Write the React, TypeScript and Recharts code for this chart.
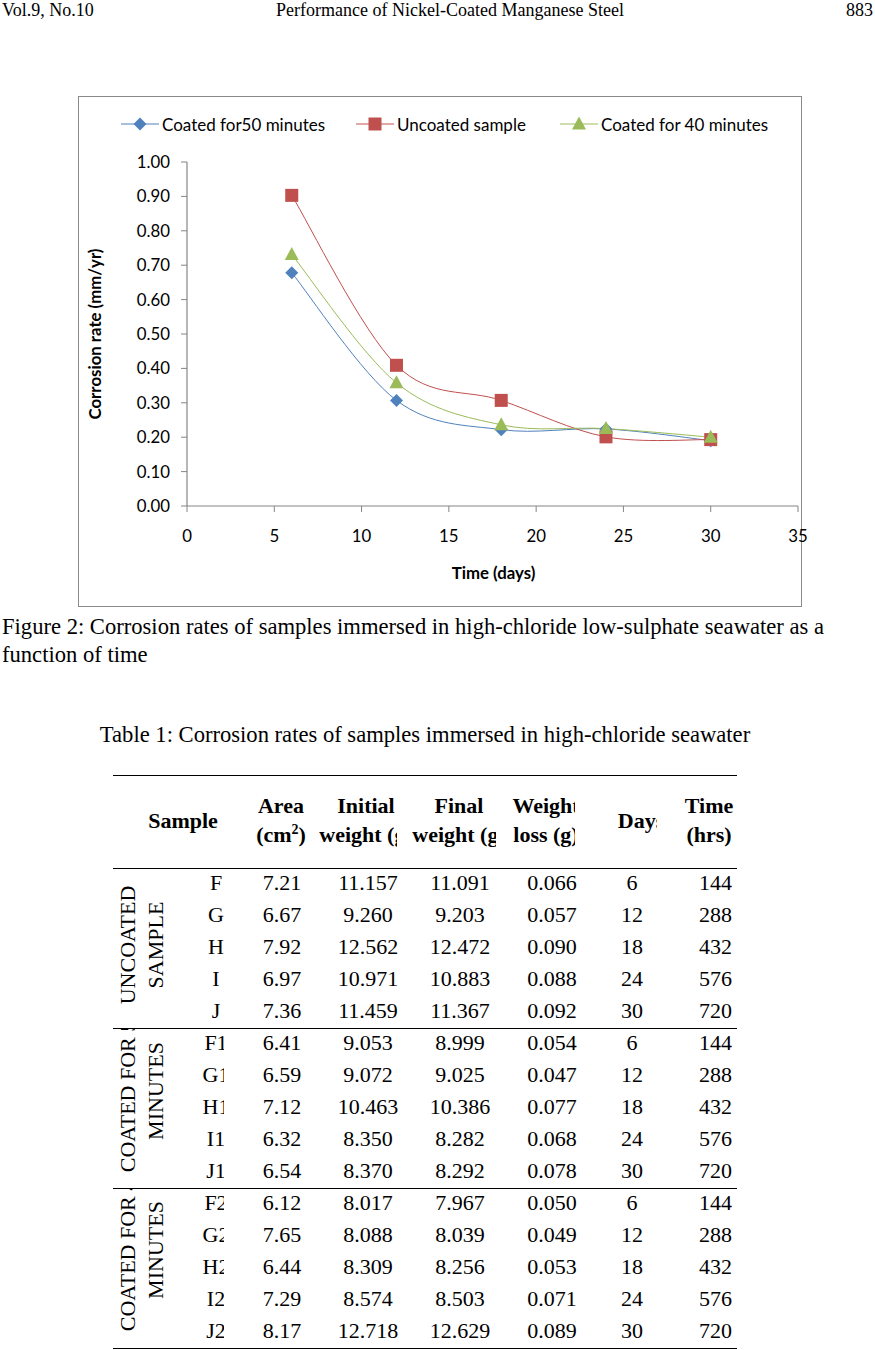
import React from "react";
import { LineChart, Line, XAxis, YAxis, Legend } from "recharts";

document.body.style.margin = "0";

// ---- chart data ----
const days = [6, 12, 18, 24, 30];
const coated50 = [0.678, 0.307, 0.222, 0.224, 0.19];
const uncoated = [0.903, 0.409, 0.307, 0.201, 0.193];
const coated40 = [0.731, 0.358, 0.236, 0.225, 0.2];
const xTicks = [0, 5, 10, 15, 20, 25, 30, 35];
const yTicks = [0, 0.1, 0.2, 0.3, 0.4, 0.5, 0.6, 0.7, 0.8, 0.9, 1.0];

// ---- table data ----
const groupLabels = [
  ["UNCOATED", "SAMPLE"],
  ["COATED FOR 50", "MINUTES"],
  ["COATED FOR 40", "MINUTES"],
];
const sampleIds = [
  ["F", "G", "H", "I", "J"],
  ["F1", "G1", "H1", "I1", "J1"],
  ["F2", "G2", "H2", "I2", "J2"],
];
const areas = [
  ["7.21", "6.67", "7.92", "6.97", "7.36"],
  ["6.41", "6.59", "7.12", "6.32", "6.54"],
  ["6.12", "7.65", "6.44", "7.29", "8.17"],
];
const initialWeights = [
  ["11.157", "9.260", "12.562", "10.971", "11.459"],
  ["9.053", "9.072", "10.463", "8.350", "8.370"],
  ["8.017", "8.088", "8.309", "8.574", "12.718"],
];
const finalWeights = [
  ["11.091", "9.203", "12.472", "10.883", "11.367"],
  ["8.999", "9.025", "10.386", "8.282", "8.292"],
  ["7.967", "8.039", "8.256", "8.503", "12.629"],
];
const weightLosses = [
  ["0.066", "0.057", "0.090", "0.088", "0.092"],
  ["0.054", "0.047", "0.077", "0.068", "0.078"],
  ["0.050", "0.049", "0.053", "0.071", "0.089"],
];
const dayCounts = ["6", "12", "18", "24", "30"];
const hours = ["144", "288", "432", "576", "720"];

const SANS = "Lato, 'Open Sans', sans-serif";
const SERIF = "'Liberation Serif', 'Times New Roman', serif";
const AXIS = "#868686";

const series = [
  { key: "c50", name: "Coated for50 minutes", color: "#4F81BD", shape: "diamond" },
  { key: "unc", name: "Uncoated sample", color: "#C0504D", shape: "square" },
  { key: "c40", name: "Coated for 40 minutes", color: "#9BBB59", shape: "triangle" },
];

const chartData = days.map((d, i) => ({
  day: d,
  c50: coated50[i],
  unc: uncoated[i],
  c40: coated40[i],
}));

// Excel-style smoothed line (Catmull-Rom through every point)
function excelSmooth(context: any) {
  let pts: [number, number][] = [];
  return {
    areaStart() {},
    areaEnd() {},
    lineStart() {
      pts = [];
    },
    point(x: number, y: number) {
      pts.push([+x, +y]);
    },
    lineEnd() {
      const n = pts.length;
      if (!n) return;
      context.moveTo(pts[0][0], pts[0][1]);
      for (let i = 0; i < n - 1; i++) {
        const p0 = pts[Math.max(i - 1, 0)];
        const p1 = pts[i];
        const p2 = pts[i + 1];
        const p3 = pts[Math.min(i + 2, n - 1)];
        context.bezierCurveTo(
          p1[0] + (p2[0] - p0[0]) / 6,
          p1[1] + (p2[1] - p0[1]) / 6,
          p2[0] - (p3[0] - p1[0]) / 6,
          p2[1] - (p3[1] - p1[1]) / 6,
          p2[0],
          p2[1]
        );
      }
    },
  };
}

function Marker({ shape, cx, cy, color }: any) {
  if (shape === "diamond") {
    const r = 6.5;
    return <path d={`M${cx},${cy - r}L${cx + r},${cy}L${cx},${cy + r}L${cx - r},${cy}Z`} fill={color} />;
  }
  if (shape === "square") {
    return <rect x={cx - 6.5} y={cy - 6.5} width={13} height={13} fill={color} />;
  }
  return <path d={`M${cx},${cy - 7.5}L${cx + 7},${cy + 5.5}L${cx - 7},${cy + 5.5}Z`} fill={color} />;
}

const legendLeft = [42, 277, 481];

function LegendBox() {
  return (
    <div style={{ position: "relative", height: 30, fontFamily: SANS, fontSize: 17, color: "#000" }}>
      {series.map((s, i) => (
        <div
          key={s.key}
          style={{ position: "absolute", left: legendLeft[i], top: 0, height: 30, display: "flex", alignItems: "center", whiteSpace: "nowrap" }}
        >
          <svg width={38} height={20} style={{ display: "block" }}>
            <line x1={0} y1={10} x2={38} y2={10} stroke={s.color} strokeWidth={1} />
            <Marker shape={s.shape} cx={19} cy={10} color={s.color} />
          </svg>
          <span style={{ marginLeft: 3 }}>{s.name}</span>
        </div>
      ))}
    </div>
  );
}

function YTitle({ viewBox }: any) {
  const x = viewBox.x + 15;
  const y = viewBox.y + viewBox.height / 2;
  return (
    <text x={x} y={y} textAnchor="middle" dominantBaseline="central" transform={`rotate(-90, ${x}, ${y})`} fontFamily={SANS} fontWeight="bold" fontSize={16.8} fill="#000">
      Corrosion rate (mm/yr)
    </text>
  );
}

function XTitle({ viewBox }: any) {
  const x = viewBox.x + viewBox.width / 2 + 1;
  const y = viewBox.y + 66;
  return (
    <text x={x} y={y} textAnchor="middle" dominantBaseline="central" fontFamily={SANS} fontWeight="bold" fontSize={16.8} fill="#000">
      Time (days)
    </text>
  );
}

function Chart() {
  const tick = { fontSize: 16.8, fill: "#000", fontFamily: SANS };
  return (
    <div style={{ position: "absolute", left: 78, top: 96, width: 722, height: 509, border: "1px solid #8a8a8a", background: "#fff" }}>
      <div style={{ position: "absolute", left: 0, top: 0 }}>
        {/* chart is wider than the frame so the last x tick label ("35") is not cut */}
        <LineChart width={745} height={509} data={chartData} margin={{ top: 65, right: 26, bottom: 0, left: 0 }}>
          <XAxis
            type="number"
            dataKey="day"
            domain={[0, 35]}
            ticks={xTicks}
            interval={0}
            height={100}
            tickSize={6}
            tickMargin={18}
            tick={tick}
            axisLine={{ stroke: AXIS, strokeWidth: 1.2 }}
            tickLine={{ stroke: AXIS }}
            label={(p: any) => <XTitle {...p} />}
          />
          <YAxis
            type="number"
            domain={[0, 1]}
            ticks={yTicks}
            interval={0}
            width={108}
            tickSize={6}
            tickMargin={11}
            tick={tick}
            tickFormatter={(v: number) => v.toFixed(2)}
            axisLine={{ stroke: AXIS, strokeWidth: 1.2 }}
            tickLine={{ stroke: AXIS }}
            label={(p: any) => <YTitle {...p} />}
          />
          <Legend
            content={<LegendBox />}
            layout="horizontal"
            verticalAlign="middle"
            align="center"
            wrapperStyle={{ top: 12, left: 0, width: 722, height: 30 }}
          />
          {series.map((s) => (
            <Line
              key={s.key}
              dataKey={s.key}
              name={s.name}
              type={excelSmooth as any}
              stroke={s.color}
              strokeWidth={1}
              isAnimationActive={false}
              activeDot={false}
              dot={(p: any) => <Marker key={`${s.key}-${p.index}`} shape={s.shape} cx={p.cx} cy={p.cy} color={s.color} />}
            />
          ))}
        </LineChart>
      </div>
    </div>
  );
}

function Txt({ x, y, size = 22, align = "left", bold = false, font = SERIF, children }: any) {
  const tx = align === "center" ? "-50%" : align === "right" ? "-100%" : "0";
  return (
    <div
      style={{
        position: "absolute",
        left: x,
        top: y - size / 2,
        fontSize: size,
        lineHeight: `${size}px`,
        fontFamily: font,
        fontWeight: bold ? "bold" : "normal",
        whiteSpace: "nowrap",
        transform: `translateX(${tx})`,
        color: "#000",
      }}
    >
      {children}
    </div>
  );
}

function VTxt({ x, y, size = 22, children }: any) {
  return (
    <div
      style={{
        position: "absolute",
        left: x,
        top: y,
        fontSize: size,
        lineHeight: `${size}px`,
        fontFamily: SERIF,
        whiteSpace: "nowrap",
        transform: "translate(-50%, -50%) rotate(-90deg)",
      }}
    >
      {children}
    </div>
  );
}

function Clip({ left, right, top, bottom, children }: any) {
  return (
    <div style={{ position: "absolute", left, top, width: right - left, height: bottom - top, overflow: "hidden" }}>
      {children}
    </div>
  );
}

function Rule({ y }: any) {
  return <div style={{ position: "absolute", left: 113, top: y, width: 624, height: 1.3, background: "#000" }} />;
}

const groupTops = [868, 1028, 1188];
const labelCenters = [945, 1091, 1250];

function DataTable() {
  const hTop = 776;
  const hBot = 867;
  return (
    <>
      <Rule y={775} />
      {/* header */}
      <Txt x={183} y={821} bold align="center">Sample</Txt>
      <Txt x={281} y={806} bold align="center">Area</Txt>
      <Txt x={281} y={835} bold align="center">
        (cm<sup style={{ fontSize: 14, lineHeight: 0 }}>2</sup>)
      </Txt>
      <Clip left={310} right={397} top={hTop} bottom={hBot}>
        <Txt x={366 - 310} y={806 - hTop} bold align="center">Initial</Txt>
        <Txt x={366 - 310} y={835 - hTop} bold align="center">weight (g)</Txt>
      </Clip>
      <Clip left={400} right={496} top={hTop} bottom={hBot}>
        <Txt x={459 - 400} y={806 - hTop} bold align="center">Final</Txt>
        <Txt x={459 - 400} y={835 - hTop} bold align="center">weight (g)</Txt>
      </Clip>
      <Clip left={500} right={575} top={hTop} bottom={hBot}>
        <Txt x={546 - 500} y={806 - hTop} bold align="center">Weight</Txt>
        <Txt x={546 - 500} y={835 - hTop} bold align="center">loss (g)</Txt>
      </Clip>
      <Clip left={600} right={657} top={hTop} bottom={hBot}>
        <Txt x={641 - 600} y={821 - hTop} bold align="center">Days</Txt>
      </Clip>
      <Txt x={709} y={806} bold align="center">Time</Txt>
      <Txt x={709} y={835} bold align="center">(hrs)</Txt>
      <Rule y={868} />
      {groupTops.map((top, g) => (
        <React.Fragment key={g}>
          <Clip left={113} right={188} top={top + 1} bottom={top + 160}>
            <VTxt x={127.5 - 113} y={labelCenters[g] - top - 1}>{groupLabels[g][0]}</VTxt>
            <VTxt x={156 - 113} y={labelCenters[g] - top - 1}>{groupLabels[g][1]}</VTxt>
          </Clip>
          {sampleIds[g].map((id, i) => {
            const y = top + 15 + i * 32;
            return (
              <React.Fragment key={id}>
                <Clip left={188} right={224} top={y - 16} bottom={y + 16}>
                  <Txt x={216 - 188} y={16} align="center">{id}</Txt>
                </Clip>
                <Txt x={282} y={y} align="center">{areas[g][i]}</Txt>
                <Txt x={368} y={y} align="center">{initialWeights[g][i]}</Txt>
                <Txt x={460} y={y} align="center">{finalWeights[g][i]}</Txt>
                <Txt x={552} y={y} align="center">{weightLosses[g][i]}</Txt>
                <Txt x={632} y={y} align="center">{dayCounts[i]}</Txt>
                <Txt x={715.5} y={y} align="center">{hours[i]}</Txt>
              </React.Fragment>
            );
          })}
          <Rule y={top + 160} />
        </React.Fragment>
      ))}
    </>
  );
}

export default function App() {
  return (
    <div style={{ position: "relative", width: 875, height: 1350, background: "#fff", overflow: "hidden" }}>
      <Txt x={2} y={10} size={18}>Vol.9, No.10</Txt>
      <Txt x={450} y={10} size={18} align="center">Performance of Nickel-Coated Manganese Steel</Txt>
      <Txt x={873} y={10} size={18} align="right">883</Txt>
      <Chart />
      <Txt x={2} y={627} size={22.6}>
        Figure 2: Corrosion rates of samples immersed in high-chloride low-sulphate seawater as a
      </Txt>
      <Txt x={2} y={655} size={22.6}>function of time</Txt>
      <Txt x={425} y={735} size={22.6} align="center">
        Table 1: Corrosion rates of samples immersed in high-chloride seawater
      </Txt>
      <DataTable />
    </div>
  );
}
